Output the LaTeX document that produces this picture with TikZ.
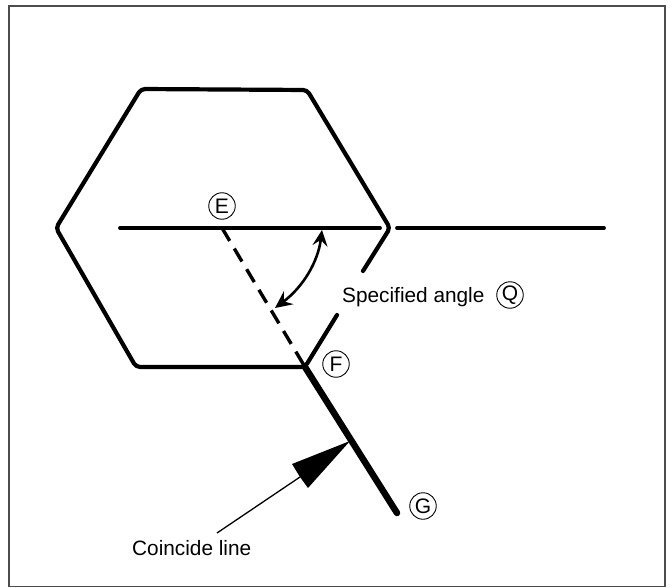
\documentclass[tikz,border=0pt]{standalone}
\usepackage{fontspec}
\setmainfont{Liberation Sans}
\usetikzlibrary{arrows.meta}
\tikzset{
  hexline/.style={line width=4.2pt,line cap=round,line join=round,black},
  thinref/.style={line width=3.8pt,line cap=round,black},
  dashref/.style={line width=3.4pt,black,dash pattern=on 15pt off 9pt},
  thickline/.style={line width=6.5pt,line cap=round,black},
  circ/.style={draw,circle,line width=0.9pt,minimum size=26.5pt,inner sep=0pt,font=\fontsize{21}{21}\selectfont},
  lbl/.style={inner sep=0pt,font=\fontsize{20.8}{24}\selectfont,anchor=base west},
}
\begin{document}
\begin{tikzpicture}[x=1pt,y=-1pt]
\useasboundingbox (0,0) rectangle (672,588);
\fill[white] (0,0) rectangle (672,588);
\draw[line width=1.5pt,black!70] (9,6) rectangle (665,586.5);
% key points
\coordinate (A) at (141,89);
\coordinate (B) at (307,90);
\coordinate (C) at (390,228);
\coordinate (D1) at (363,271);
\coordinate (D2) at (337,315);
\coordinate (Fp) at (305,367);
\coordinate (H) at (136,367);
\coordinate (L) at (56,228);
\coordinate (Gp) at (397,513);
\coordinate (Es) at (120,228);
\coordinate (Ee) at (380,228);
\coordinate (Rs) at (397,228);
\coordinate (Re) at (604,228);
\coordinate (Ep) at (222,228);
\coordinate (Ar1) at (322,230);
\coordinate (Ar2) at (275,308);
\coordinate (Tip) at (350,441);
\coordinate (C1) at (292,464);
\coordinate (C2) at (308,488);
\coordinate (Notch) at (300,477);
\coordinate (Tail) at (217,533);
% hexagon
\draw[hexline,rounded corners=4pt] (D1) -- (C) -- (B) -- (A) -- (L) -- (H) -- (Fp) -- (D2);
% reference lines
\draw[thinref] (Es) -- (Ee);
\draw[thinref] (Rs) -- (Re);
\draw[dashref] (Ep) -- (Fp);
\draw[thickline] (Fp) -- (Gp);
% angle arrow
\draw[line width=2.6pt,{Stealth[length=16pt,width=15pt,inset=6pt]}-{Stealth[length=17pt,width=16pt,inset=6pt]}]
  (Ar1) .. controls (318,262) and (303,287) .. (Ar2);
% leader arrow
\draw[line width=1.3pt] (Tail) -- (Notch);
\fill[black] (Tip) -- (C1) -- (Notch) -- (C2) -- cycle;
% labels
\node[circ] (E) at (222,206) {E};
\node[circ] (F) at (336,364) {F};
\node[circ] (G) at (423,506) {G};
\node[lbl] (spec) at (342,302) {Specified angle};
\node[circ] (Q) at (510,295) {Q};
\node[lbl] (coin) at (132,555) {Coincide line};
\end{tikzpicture}
\end{document}
